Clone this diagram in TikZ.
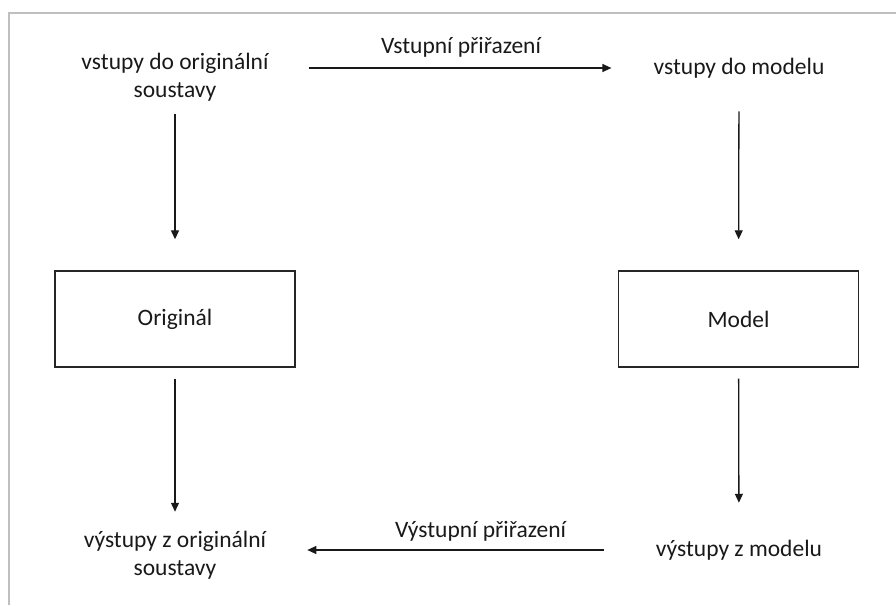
\documentclass[tikz,border=0pt]{standalone}
\usepackage{fontspec}
\setmainfont{Carlito}
\usetikzlibrary{arrows.meta}
\begin{document}
\begin{tikzpicture}[x=1pt,y=-1pt,
  txt/.style={inner sep=0pt,align=center,font=\fontsize{23.5}{28}\selectfont,text=black!90},
  box/.style={draw=black!85,line width=1.4pt,minimum width=240pt,minimum height=96pt,inner sep=0pt,font=\fontsize{23.5}{28}\selectfont,text=black!90},
  arr/.style={line width=1.3pt,draw=black!90,-{Triangle[length=9pt,width=8pt]}},
  lbl/.style={inner sep=0pt,font=\fontsize{23.5}{28}\selectfont,text=black!90}]
\useasboundingbox (0,0) rectangle (896,605);
\draw[line width=2pt,draw=black!25] (9,605) -- (9,13) -- (896,13);
\node[txt] (in1) at (175,77) {vstupy do originální\\soustavy};
\node[txt] (in2) at (739,68) {vstupy do modelu};
\node[box] (orig) at (175,319) {Originál};
\node[box] (mod) at (738.5,319) {Model};
\node[txt] (out1) at (175,555) {výstupy z originální\\soustavy};
\node[txt] (out2) at (739,550) {výstupy z modelu};
\draw[arr,shorten <=13pt,shorten >=31pt] (in1) -- (orig);
\draw[arr,shorten <=33pt,shorten >=31pt] (in2) -- (mod);
\draw[arr,shorten <=11pt,shorten >=19pt] (orig) -- (out1);
\draw[arr,shorten <=11pt,shorten >=37pt] (mod) -- (out2);
\draw[arr,shorten <=40pt,shorten >=42pt] (in1.east |- in2) -- node[lbl,above=10pt] {Vstupní přiřazení} (in2.west);
\draw[arr,shorten <=52pt,shorten >=41pt] (out2.west) -- node[lbl,above=8pt,pos=0.45] {Výstupní přiřazení} (out1.east |- out2);
\end{tikzpicture}
\end{document}
